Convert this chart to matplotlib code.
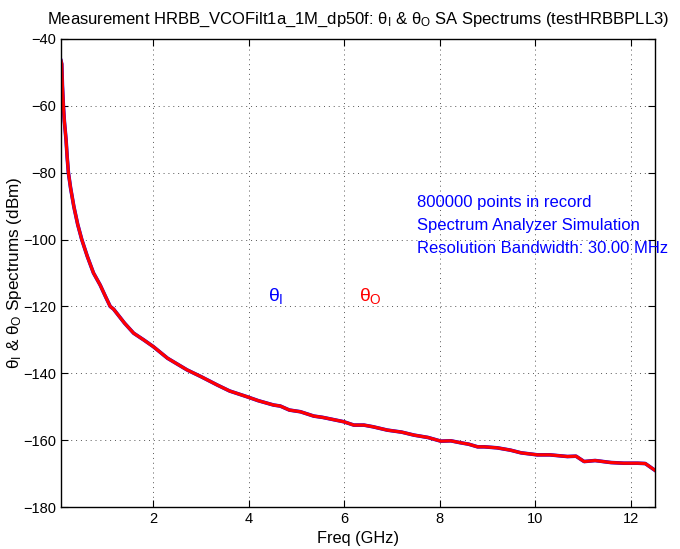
import numpy as np
import matplotlib
matplotlib.use("Agg")
import matplotlib.pyplot as plt

plt.rcParams['font.family'] = ['Liberation Sans', 'DejaVu Sans']
plt.rcParams['mathtext.fontset'] = 'custom'
plt.rcParams['mathtext.rm'] = 'Liberation Sans'
plt.rcParams['mathtext.it'] = 'Liberation Sans'

# spectrum (GHz, dBm)
freq = [0.07, 0.086, 0.10, 0.12, 0.14, 0.176, 0.20, 0.225, 0.27, 0.34, 0.42,
        0.505, 0.62, 0.75, 0.89, 1.00, 1.10, 1.17, 1.40, 1.59, 1.80, 2.00,
        2.30, 2.71, 3.00, 3.34, 3.60, 3.96, 4.20, 4.52, 4.66, 4.85, 5.08,
        5.36, 5.55, 5.99, 6.20, 6.41, 6.60, 6.90, 7.20, 7.46, 7.75, 8.02,
        8.23, 8.44, 8.60, 8.79, 8.93, 9.20, 9.48, 9.70, 10.04, 10.30, 10.67,
        10.85, 11.02, 11.25, 11.58, 11.85, 12.14, 12.30, 12.40, 12.5]
theta_i = [-46.5, -47.5, -54, -60, -64.5, -70.2, -75.5, -80, -84.5, -90.2,
           -95.5, -100, -105, -110, -113.6, -117, -120, -120.8, -125, -128,
           -130, -132, -135.5, -139, -141, -143.5, -145.3, -147, -148.2,
           -149.5, -149.8, -151, -151.5, -152.8, -153.2, -154.5, -155.5,
           -155.5, -156, -157, -157.6, -158.5, -159.2, -160.3, -160.2, -160.8,
           -161.2, -162, -162, -162.3, -163, -163.8, -164.4, -164.4, -164.9,
           -164.8, -166.4, -166.1, -166.7, -166.9, -166.9, -167.0, -168.0, -169]
theta_o = list(theta_i)

x_ticks = [2, 4, 6, 8, 10, 12]
y_ticks = [-180, -160, -140, -120, -100, -80, -60, -40]

notes = ["800000 points in record",
         "Spectrum Analyzer Simulation",
         "Resolution Bandwidth: 30.00 MHz"]

fig = plt.figure(figsize=(6.8, 5.49), dpi=100)
ax = fig.add_axes([0.0897, 0.0765, 0.8733, 0.8525])

ax.plot(freq, theta_i, color='blue', lw=2.6)
ax.plot(freq, theta_o, color='red', lw=2.3)

ax.set_xlim(0.07, 12.5)
ax.set_ylim(-180, -40)
ax.set_xticks(x_ticks)
ax.set_yticks(y_ticks)
ax.grid(True, linestyle=(0, (1, 4)), color='#555555', linewidth=0.7)
ax.tick_params(direction='in', top=True, right=True, length=5, labelsize=10.5)
for s in ax.spines.values():
    s.set_linewidth(1.0)

ax.set_xlabel("Freq (GHz)", fontsize=11.8)
ax.set_ylabel(r"$\theta_\mathrm{I}$ & $\theta_\mathrm{O}$ Spectrums (dBm)", fontsize=12.3)
ax.yaxis.set_label_coords(-0.063, 0.5)
ax.set_title(r"Measurement HRBB_VCOFilt1a_1M_dp50f: $\theta_\mathrm{I}$ & $\theta_\mathrm{O}$ SA Spectrums (testHRBBPLL3)",
             fontsize=12, pad=11)

for i, t in enumerate(notes):
    ax.text(7.53, -89 - 6.9 * i, t, color='blue', fontsize=12, va='center')

ax.text(4.41, -117, r"$\theta_\mathrm{I}$", color='blue', fontsize=14, va='center')
ax.text(6.3, -117, r"$\theta_\mathrm{O}$", color='red', fontsize=14, va='center')

fig.savefig("out.png", dpi=100)
